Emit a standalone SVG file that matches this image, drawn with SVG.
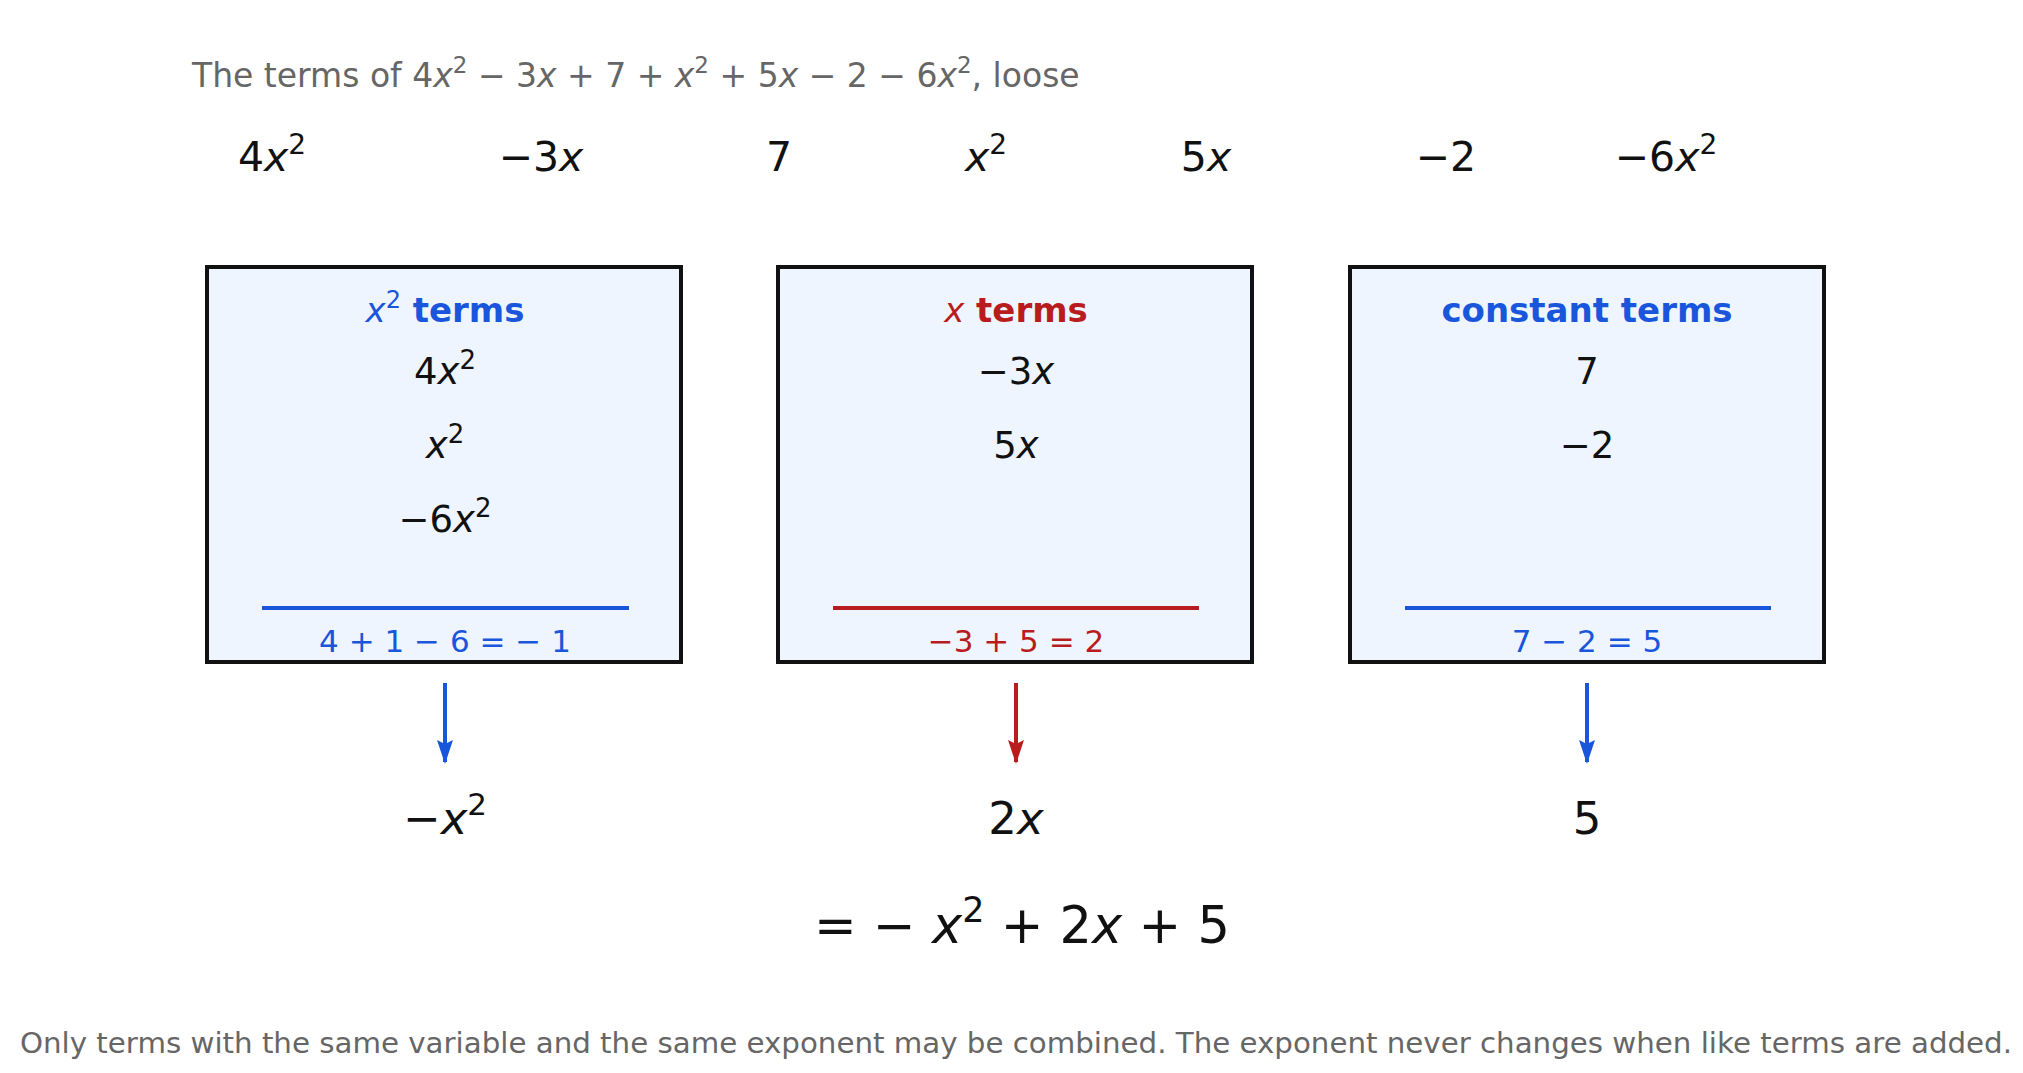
<svg xmlns="http://www.w3.org/2000/svg" width="2023" height="1073" viewBox="0 0 2023 1073">
<style>
text{font-family:"DejaVu Sans",sans-serif;text-anchor:middle}
.i{font-style:italic}
.box{fill:#eef5ff;stroke:#111;stroke-width:4}
.term{font-size:41px;fill:#111}
.item{font-size:37px;fill:#111}
.hd{font-size:34px;font-weight:bold}
.sum{font-size:31px}
.res{font-size:45px;fill:#111}
.blue{fill:#1a56db}.red{fill:#b91c1c}
</style>
<defs>
<marker id="ab" markerWidth="24" markerHeight="16" refX="22" refY="8" orient="auto" markerUnits="userSpaceOnUse" viewBox="0 0 24 16"><path d="M0,0 L24,8 L0,16 L4,8z" fill="#1a56db"/></marker>
<marker id="ar" markerWidth="24" markerHeight="16" refX="22" refY="8" orient="auto" markerUnits="userSpaceOnUse" viewBox="0 0 24 16"><path d="M0,0 L24,8 L0,16 L4,8z" fill="#b91c1c"/></marker>
</defs>
<text x="192" y="87" style="text-anchor:start;font-size:33px;fill:#666">The terms of 4<tspan class="i">x</tspan><tspan font-size="23" dy="-14">2</tspan><tspan dy="14"> − 3</tspan><tspan class="i">x</tspan> + 7 + <tspan class="i">x</tspan><tspan font-size="23" dy="-14">2</tspan><tspan dy="14"> + 5</tspan><tspan class="i">x</tspan> − 2 − 6<tspan class="i">x</tspan><tspan font-size="23" dy="-14">2</tspan><tspan dy="14">, loose</tspan></text>
<g id="terms" class="term">
<text x="272" y="171">4<tspan class="i">x</tspan><tspan font-size="28" dy="-17">2</tspan></text>
<text x="541" y="171">−3<tspan class="i">x</tspan></text>
<text x="779" y="171">7</text>
<text x="986" y="171"><tspan class="i">x</tspan><tspan font-size="28" dy="-17">2</tspan></text>
<text x="1206" y="171">5<tspan class="i">x</tspan></text>
<text x="1446" y="171">−2</text>
<text x="1666" y="171">−6<tspan class="i">x</tspan><tspan font-size="28" dy="-17">2</tspan></text>
</g>
<g id="box-x2">
<rect class="box" x="207" y="267" width="474" height="395"/>
<text class="hd blue" x="445" y="322"><tspan class="i" font-weight="normal">x</tspan><tspan font-size="24" font-weight="normal" dy="-14">2</tspan><tspan dy="14"> terms</tspan></text>
<text class="item" x="445" y="384">4<tspan class="i">x</tspan><tspan font-size="26" dy="-15">2</tspan></text>
<text class="item" x="445" y="458"><tspan class="i">x</tspan><tspan font-size="26" dy="-15">2</tspan></text>
<text class="item" x="445" y="532">−6<tspan class="i">x</tspan><tspan font-size="26" dy="-15">2</tspan></text>
<line x1="262" y1="608" x2="629" y2="608" stroke="#1a56db" stroke-width="4"/>
<text class="sum blue" x="445" y="652">4 + 1 − 6 = − 1</text>
</g>
<g id="box-x">
<rect class="box" x="778" y="267" width="474" height="395"/>
<text class="hd red" x="1016" y="322"><tspan class="i" font-weight="normal">x</tspan> terms</text>
<text class="item" x="1016" y="384">−3<tspan class="i">x</tspan></text>
<text class="item" x="1016" y="458">5<tspan class="i">x</tspan></text>
<line x1="833" y1="608" x2="1199" y2="608" stroke="#b91c1c" stroke-width="4"/>
<text class="sum red" x="1016" y="652">−3 + 5 = 2</text>
</g>
<g id="box-c">
<rect class="box" x="1350" y="267" width="474" height="395"/>
<text class="hd blue" x="1587" y="322">constant terms</text>
<text class="item" x="1587" y="384">7</text>
<text class="item" x="1587" y="458">−2</text>
<line x1="1405" y1="608" x2="1771" y2="608" stroke="#1a56db" stroke-width="4"/>
<text class="sum blue" x="1587" y="652">7 − 2 = 5</text>
</g>
<g id="connectors" stroke-width="4">
<line x1="445" y1="683" x2="445" y2="762" stroke="#1a56db" marker-end="url(#ab)"/>
<line x1="1016" y1="683" x2="1016" y2="762" stroke="#b91c1c" marker-end="url(#ar)"/>
<line x1="1587" y1="683" x2="1587" y2="762" stroke="#1a56db" marker-end="url(#ab)"/>
</g>
<g id="results" class="res">
<text x="445" y="834">−<tspan class="i">x</tspan><tspan font-size="31" dy="-19">2</tspan></text>
<text x="1016" y="834">2<tspan class="i">x</tspan></text>
<text x="1587" y="834">5</text>
</g>
<text x="1022" y="943" style="font-size:51px;fill:#111">= − <tspan class="i">x</tspan><tspan font-size="35" dy="-21">2</tspan><tspan dy="21"> + 2</tspan><tspan class="i">x</tspan> + 5</text>
<text x="1016" y="1053" style="font-size:28px;fill:#666" textLength="1992" lengthAdjust="spacingAndGlyphs">Only terms with the same variable and the same exponent may be combined. The exponent never changes when like terms are added.</text>
</svg>
